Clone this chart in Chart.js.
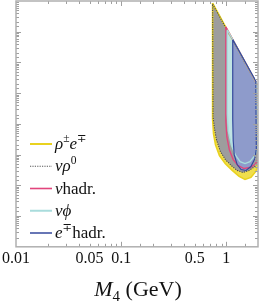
<!DOCTYPE html>
<html>
<head>
<meta charset="utf-8">
<script src="https://cdn.jsdelivr.net/npm/chart.js@4.4.1/dist/chart.umd.min.js"></script>
<style>
html, body { margin: 0; padding: 0; background: #fff; }
</style>
</head>
<body>
<canvas id="chart" width="263" height="303"></canvas>
<script>
// contours in (M4 [GeV], |U|^2)
const rhoeX = [0.740, 2.034, 2.034, 1.907, 1.713, 1.505, 1.323, 1.138, 0.979, 0.860, 0.789, 0.756, 0.740, 0.740];
const rhoeY = [8.6e-3, 1.56e-5, 5.1e-8, 2.83e-8, 1.81e-8, 1.56e-8, 1.95e-8, 3.05e-8, 5.1e-8, 9.3e-8, 2.1e-7, 4.75e-7, 1.45e-6, 8.6e-3];

const nurhoX = [0.740, 2.034, 2.034, 1.866, 1.641, 1.442, 1.267, 1.114, 0.979, 0.879, 0.806, 0.772, 0.748, 0.740];
const nurhoY = [8.0e-3, 1.56e-5, 5.9e-8, 4.1e-8, 3.05e-8, 2.62e-8, 3.05e-8, 4.4e-8, 6.9e-8, 1.25e-7, 3.05e-7, 6.9e-7, 1.68e-6, 8.0e-3];

const nuhadrX = [0.989, 2.034, 2.034, 1.866, 1.676, 1.473, 1.295, 1.162, 1.067, 1.011, 0.989, 0.989];
const nuhadrY = [1.45e-3, 1.56e-5, 7.4e-8, 4.75e-8, 3.81e-8, 3.53e-8, 4.4e-8, 6.9e-8, 1.45e-7, 3.81e-7, 1.25e-6, 1.45e-3];

const nuphiX = [1.022, 1.991, 1.991, 1.866, 1.676, 1.505, 1.351, 1.214, 1.114, 1.044, 1.022, 1.022];
const nuphiY = [1.16e-3, 1.81e-5, 1.81e-7, 9.3e-8, 5.9e-8, 5.1e-8, 5.9e-8, 1.0e-7, 2.1e-7, 5.94e-7, 2.1e-6, 1.16e-3];

const ehadrX = [1.150, 1.907, 1.928, 1.866, 1.713, 1.538, 1.381, 1.267, 1.188, 1.162, 1.150, 1.150];
const ehadrY = [5.52e-4, 2.44e-5, 1.56e-7, 7.4e-8, 4.1e-8, 3.05e-8, 3.28e-8, 4.75e-8, 1.0e-7, 2.83e-7, 1.45e-6, 5.52e-4];

const xTickLabels = [0.01, 0.05, 0.1, 0.5, 1];

const serif = '"Liberation Serif", "DejaVu Serif", serif';

function pts(xs, ys) {
    return xs.map((x, i) => ({ x: x, y: ys[i] }));
}

function drawRich(ctx, x, y, parts, size) {
    parts.forEach(([t, k]) => {
        const sz = (k === 's' || k === 'b') ? size * 0.68 : size;
        ctx.font = (k === 'i' ? 'italic ' : '') + sz + 'px ' + serif;
        let dy = 0;
        if (k === 's') dy = -size * 0.42;
        if (k === 'b') dy = size * 0.22;
        ctx.fillText(t, x, y + dy);
        x += ctx.measureText(t).width;
    });
}

function richWidth(ctx, parts, size) {
    let w = 0;
    parts.forEach(([t, k]) => {
        const sz = (k === 's' || k === 'b') ? size * 0.68 : size;
        ctx.font = (k === 'i' ? 'italic ' : '') + sz + 'px ' + serif;
        w += ctx.measureText(t).width;
    });
    return w;
}

const legendItems = [
    { color: '#e9d21f', width: 2, dash: [], parts: [['ρ', 'i'], ['±', 's'], ['e', 'i'], ['∓', 's']] },
    { color: '#555555', width: 1.2, dash: [1.2, 1.2], parts: [['νρ', 'i'], ['0', 's']] },
    { color: '#e2457c', width: 1.6, dash: [], parts: [['ν', 'i'], ['hadr.', 'r']] },
    { color: '#a9dcdc', width: 2, dash: [], parts: [['νϕ', 'i']] },
    { color: '#34489c', width: 1.5, dash: [], parts: [['e', 'i'], ['∓', 's'], ['hadr.', 'r']] }
];

const framePlugin = {
    id: 'frame',
    afterDraw(chart) {
        const ctx = chart.ctx;
        const a = chart.chartArea;
        const xs = chart.scales.x;
        const ys = chart.scales.y;
        const isMajor = v => Math.abs(Math.log10(v) - Math.round(Math.log10(v))) < 1e-6;
        ctx.save();
        ctx.strokeStyle = '#9f9f9f';
        ctx.lineWidth = 1;
        ctx.beginPath();
        xs.ticks.forEach(t => {
            const p = Math.round(xs.getPixelForValue(t.value)) + 0.5;
            if (p < a.left + 1 || p > a.right - 1) return;
            const len = isMajor(t.value) ? 5 : 3;
            ctx.moveTo(p, a.bottom); ctx.lineTo(p, a.bottom - len);
            ctx.moveTo(p, a.top); ctx.lineTo(p, a.top + len);
        });
        ys.ticks.forEach(t => {
            const p = Math.round(ys.getPixelForValue(t.value)) + 0.5;
            if (p < a.top + 1 || p > a.bottom - 1) return;
            const len = isMajor(t.value) ? 5 : 3;
            ctx.moveTo(a.left, p); ctx.lineTo(a.left + len, p);
            ctx.moveTo(a.right, p); ctx.lineTo(a.right - len, p);
        });
        ctx.stroke();
        ctx.strokeStyle = '#b0b0b0';
        ctx.lineWidth = 1.5;
        ctx.strokeRect(a.left, a.top, a.right - a.left, a.bottom - a.top);

        // legend
        ctx.fillStyle = '#111';
        ctx.textBaseline = 'alphabetic';
        legendItems.forEach((it, i) => {
            const y = 144 + i * 22.25;
            ctx.strokeStyle = it.color;
            ctx.lineWidth = it.width;
            ctx.setLineDash(it.dash);
            ctx.beginPath();
            ctx.moveTo(30, y); ctx.lineTo(52, y);
            ctx.stroke();
            ctx.setLineDash([]);
            drawRich(ctx, 55, y + 5, it.parts, 17);
        });

        // axis title
        const title = [['M', 'i'], ['4', 'b'], [' (GeV)', 'r']];
        const w = richWidth(ctx, title, 22);
        drawRich(ctx, 138 - w / 2, 296, title, 22);
        ctx.restore();
    }
};

const datasets = [
    { label: 'ρ±e∓', data: pts(rhoeX, rhoeY), borderColor: '#e9d21f', backgroundColor: '#f0de4c', borderWidth: 1.6, order: 5 },
    { label: 'νρ0', data: pts(nurhoX, nurhoY), borderColor: '#4a4a4a', backgroundColor: '#9d9d9d', borderWidth: 1.1, borderDash: [1.2, 1.2], order: 4 },
    { label: 'νhadr.', data: pts(nuhadrX, nuhadrY), borderColor: '#e2457c', backgroundColor: 'rgba(0,0,0,0)', borderWidth: 1.4, order: 3 },
    { label: 'νϕ', data: pts(nuphiX, nuphiY), borderColor: '#a9dcdc', backgroundColor: '#c1e4e4', borderWidth: 1.4, order: 2 },
    { label: 'e∓hadr.', data: pts(ehadrX, ehadrY), borderColor: '#34489c', backgroundColor: '#8e9bcb', borderWidth: 1.2, order: 1 }
].map(d => Object.assign({ showLine: true, fill: 'shape', pointRadius: 0, tension: 0 }, d));

new Chart(document.getElementById('chart'), {
    type: 'scatter',
    data: { datasets: datasets },
    options: {
        responsive: false,
        animation: false,
        layout: { padding: { left: 14, right: 5, top: 1, bottom: 33 } },
        plugins: {
            legend: { display: false },
            tooltip: { enabled: false },
            filler: { drawTime: 'beforeDatasetsDraw' }
        },
        scales: {
            x: {
                type: 'logarithmic',
                min: 0.01,
                max: 2,
                grid: { display: false, drawTicks: false },
                border: { display: false },
                ticks: {
                    autoSkip: false,
                    maxRotation: 0,
                    minRotation: 0,
                    padding: 2,
                    color: '#111',
                    font: { family: serif, size: 16 },
                    callback: v => {
                        const hit = xTickLabels.find(t => Math.abs(t - v) / t < 1e-6);
                        return hit === undefined ? '' : String(hit);
                    }
                }
            },
            y: {
                type: 'logarithmic',
                min: 1e-10,
                max: 1e-2,
                grid: { display: false, drawTicks: false },
                border: { display: false },
                ticks: { display: false }
            }
        }
    },
    plugins: [framePlugin]
});
</script>
</body>
</html>
